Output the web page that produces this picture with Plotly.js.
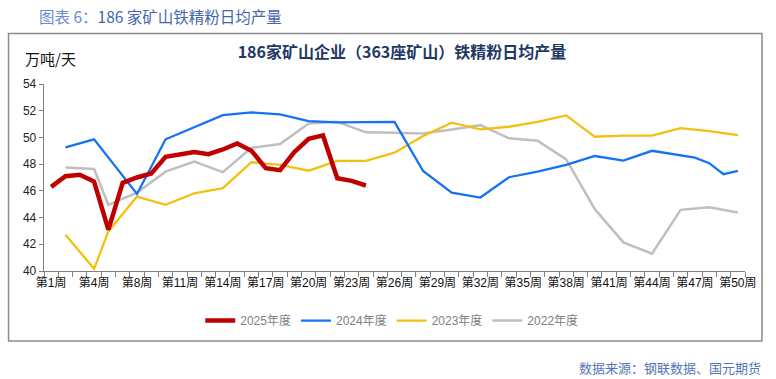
<!DOCTYPE html>
<html>
<head>
<meta charset="utf-8">
<script src="https://cdn.plot.ly/plotly-3.0.1.min.js"></script>
<style>html,body{margin:0;padding:0;background:#fff;}#chart{width:776px;height:379px;}</style>
</head>
<body>
<div id="chart"></div>
<script>
// Week numbers on the category axis (week 5 absent)
const weeks = [1,2,3,4,6,7,8,9,10,11,12,13,14,15,16,17,18,19,20,21,22,23,24,25,26,27,28,29,30,31,32,33,34,35,36,37,38,39,40,41,42,43,44,45,46,47,48,49,50];
const categories = weeks.map(w => "第" + w + "周");
const labeledWeeks = [1,4,8,11,14,17,20,23,26,29,32,35,38,41,44,47,50];

const s2025 = [46.3,47.1,47.2,46.7,43.1,46.6,47.0,47.3,48.55,48.75,48.9,48.75,49.1,49.55,49.0,47.7,47.55,48.9,49.9,50.15,46.95,46.75,46.4,
  null,null,null,null,null,null,null,null,null,null,null,null,null,null,null,null,null,null,null,null,null,null,null,null,null,null];
const s2024 = [null,49.26,null,49.86,null,null,45.77,null,49.86,null,null,null,51.67,null,51.87,null,51.72,null,51.22,null,51.12,null,51.12,null,51.17,null,47.49,null,45.87,null,45.5,null,47.02,null,47.44,null,47.94,null,48.61,null,48.26,null,49.0,null,48.69,48.49,48.07,47.25,47.49];
const s2023 = [null,42.71,null,40.17,42.96,null,45.57,null,44.95,null,45.82,null,46.2,null,48.14,null,47.94,null,47.51,null,48.24,null,48.24,null,48.86,null,50.11,null,51.1,null,50.6,null,50.8,null,51.17,null,51.65,null,50.05,null,50.13,null,50.13,null,50.7,null,50.47,null,50.17];
const s2022 = [null,47.74,null,47.64,44.95,null,45.87,null,47.44,null,48.19,null,47.4,null,49.23,null,49.5,null,51.05,null,51.17,null,50.38,null,50.35,null,50.3,null,50.6,null,50.92,null,49.93,null,49.75,null,48.35,null,44.63,null,42.14,null,41.29,null,44.58,null,44.78,null,44.38];

const seriesNames = ["2025年度","2024年度","2023年度","2022年度"];
const seriesColors = ["#C00000","#1572F2","#F2C012","#BFBFBF"];

const tickText = weeks.map(w => labeledWeeks.includes(w) ? "第" + w + "周" : "");

function tr(y, i, width, rank) {
  return {x: categories, y: y, type: "scatter", mode: "lines", name: seriesNames[i],
    connectgaps: true, line: {color: seriesColors[i], width: width}, legendrank: rank};
}
const data = [tr(s2022,3,2.5,4), tr(s2023,2,2.3,3), tr(s2024,1,2.3,2), tr(s2025,0,4.5,1)];

const plotW = 701.5, plotH = 187.3, L = 44, B = 271.3;
const px = x => (x - L) / plotW;
const py = y => (B - y) / plotH;

const layout = {
  width: 776, height: 379,
  margin: {l: 44, r: 30.5, t: 84, b: 107.7},
  paper_bgcolor: "#fff", plot_bgcolor: "#fff",
  font: {family: "Liberation Sans, Noto Sans CJK SC, sans-serif", color: "#222", size: 12},
  showlegend: true,
  legend: {orientation: "h", x: px(392), xanchor: "center", y: py(321), yanchor: "middle",
    font: {size: 12, color: "#808080"}, bgcolor: "rgba(0,0,0,0)"},
  xaxis: {type: "category", range: [-0.5, categories.length - 0.5], autorange: false,
    tickmode: "array", tickvals: categories, ticktext: tickText,
    tickson: "boundaries", ticks: "outside", ticklen: 5, tickcolor: "#808080", tickwidth: 1,
    showline: true, linecolor: "#808080", linewidth: 1.3, showgrid: false, zeroline: false,
    tickfont: {size: 12, color: "#111"}, tickangle: 0, fixedrange: true},
  yaxis: {range: [40, 54], autorange: false, dtick: 2, tick0: 40, ticks: "outside", ticklen: 4, tickcolor: "#808080",
    showline: true, linecolor: "#808080", linewidth: 1.3, showgrid: false, zeroline: false,
    tickfont: {size: 12, color: "#222"}, fixedrange: true},
  title: {text: "<b>186家矿山企业（363座矿山）铁精粉日均产量</b>", x: 402/776, xanchor: "center",
    y: 1 - 52/379, yanchor: "middle", font: {size: 16, color: "#1F3864", family: "Noto Sans CJK SC"}},
  shapes: [{type: "rect", xref: "paper", yref: "paper", x0: px(8.5), x1: px(762.5), y0: py(341.5), y1: py(33.5),
    line: {color: "#8C8C8C", width: 1.5}, fillcolor: "rgba(0,0,0,0)"}],
  annotations: [
    {xref: "paper", yref: "paper", x: px(37), y: py(16), xanchor: "left", yanchor: "middle", showarrow: false,
     text: "<span style='color:#6A8AD0'>图表 6：</span>186 家矿山铁精粉日均产量",
     font: {size: 15.5, color: "#4566AE", family: "Noto Sans CJK SC"}},
    {xref: "paper", yref: "paper", x: px(23), y: py(58), xanchor: "left", yanchor: "middle", showarrow: false,
     text: "万吨/天", font: {size: 15, color: "#111", family: "Noto Sans CJK SC"}},
    {xref: "paper", yref: "paper", x: px(764), y: py(368), xanchor: "right", yanchor: "middle", showarrow: false,
     text: "数据来源：钢联数据、国元期货", font: {size: 13, color: "#5574B8", family: "Noto Sans CJK SC"}}
  ]
};

Plotly.newPlot("chart", data, layout, {displayModeBar: false, staticPlot: true});
</script>
</body>
</html>
